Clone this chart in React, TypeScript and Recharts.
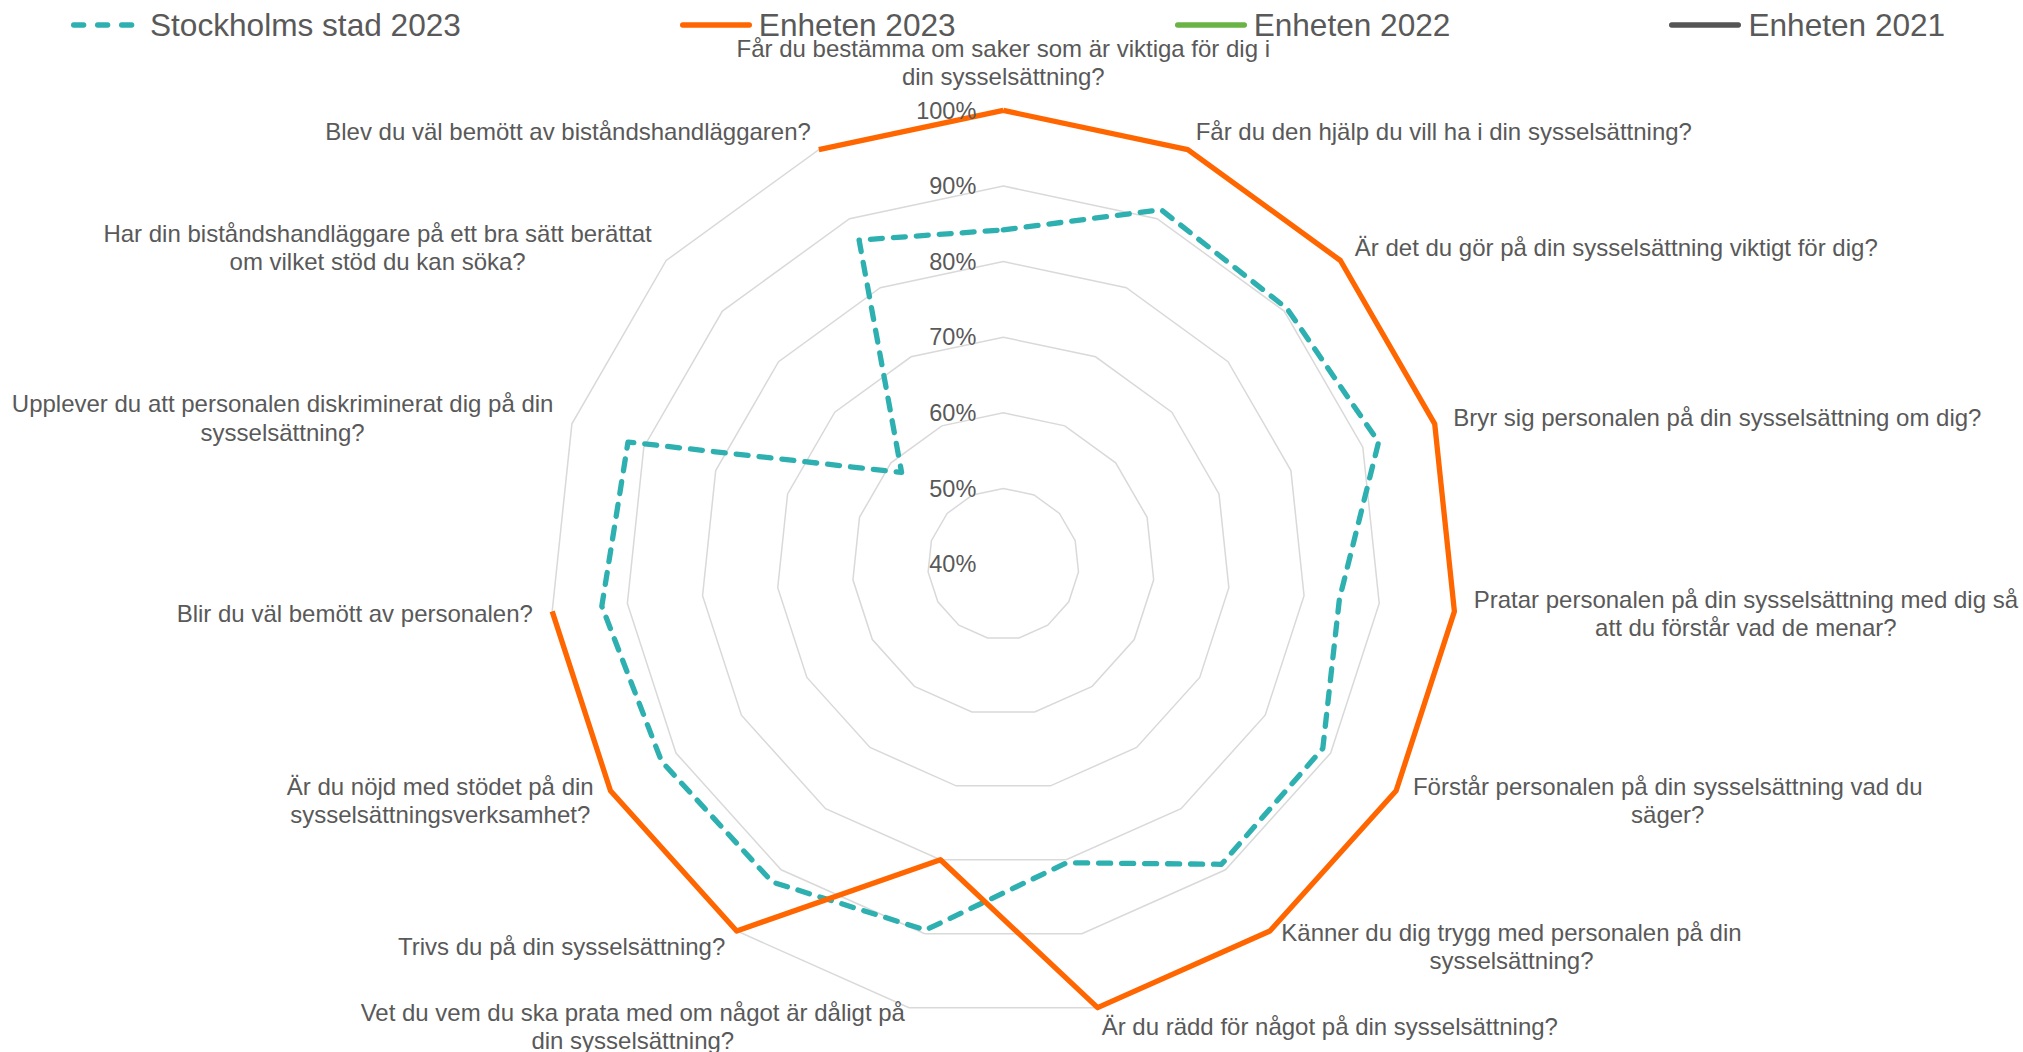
import { RadarChart, Radar, PolarGrid, PolarAngleAxis, PolarRadiusAxis, Legend } from 'recharts';

const QUESTIONS = [
  'Får du bestämma om saker som är viktiga för dig i\ndin sysselsättning?',
  'Får du den hjälp du vill ha i din sysselsättning?',
  'Är det du gör på din sysselsättning viktigt för dig?',
  'Bryr sig personalen på din sysselsättning om dig?',
  'Pratar personalen på din sysselsättning med dig så\natt du förstår vad de menar?',
  'Förstår personalen på din sysselsättning vad du\nsäger?',
  'Känner du dig trygg med personalen på din\nsysselsättning?',
  'Är du rädd för något på din sysselsättning?',
  'Vet du vem du ska prata med om något är dåligt på\ndin sysselsättning?',
  'Trivs du på din sysselsättning?',
  'Är du nöjd med stödet på din\nsysselsättningsverksamhet?',
  'Blir du väl bemött av personalen?',
  'Upplever du att personalen diskriminerat dig på din\nsysselsättning?',
  'Har din biståndshandläggare på ett bra sätt berättat\nom vilket stöd du kan söka?',
  'Blev du väl bemött av biståndshandläggaren?',
];

// percent per question, clockwise from the top
const STOCKHOLM_2023 = [84.2, 91.3, 90.5, 92.2, 84.7, 88.8, 89.1, 80.4, 89.5, 92.0, 92.2, 93.4, 92.2, 58.1, 86.9];
const ENHETEN_2023 = [100, 100, 100, 100, 100, 100, 100, 100, 80, 100, 100, 100, null, null, 100];

const RADIUS_TICKS = [40, 50, 60, 70, 80, 90, 100];

const SERIES = [
  { name: 'Stockholms stad 2023', color: '#2EB0B0', dashed: true },
  { name: 'Enheten 2023', color: '#FF6600', dashed: false },
  { name: 'Enheten 2022', color: '#6AB446', dashed: false },
  { name: 'Enheten 2021', color: '#555555', dashed: false },
];

const FONT = '"Liberation Sans", Arial, sans-serif';
const TEXT = '#595959';
const CX = 1003.3;
const CY = 564;
const R = 453.6;
const LABEL_DIST = 473;
const LABEL_SIZE = 24;
const LINE_H = 28.6;

const rows = QUESTIONS.map((q, i) => ({
  question: q,
  stockholm: STOCKHOLM_2023[i],
  enheten2023: ENHETEN_2023[i],
}));

let ctx: CanvasRenderingContext2D | null = null;
function measure(s: string) {
  if (!ctx) ctx = document.createElement('canvas').getContext('2d');
  if (!ctx) return s.length * LABEL_SIZE * 0.5;
  ctx.font = `${LABEL_SIZE}px ${FONT}`;
  return ctx.measureText(s).width;
}

// outline that leaves a gap where a question has no answer (like Excel does)
function GappedOutline(props: any) {
  const { points, dataKey, stroke, strokeWidth, strokeDasharray, strokeLinecap, strokeLinejoin } = props;
  const hasValue = (p: any) => p && p.payload && p.payload[dataKey] != null;
  const segs: any[][] = [[]];
  points.forEach((p: any) => {
    if (hasValue(p)) segs[segs.length - 1].push(p);
    else if (segs[segs.length - 1].length > 0) segs.push([]);
  });
  const closed = points.every(hasValue);
  if (!closed && hasValue(points[0])) segs[segs.length - 1].push(points[0]);
  const d = segs
    .filter((s) => s.length > 1)
    .map((s) => s.map((p, i) => `${i === 0 ? 'M' : 'L'}${p.x},${p.y}`).join(''))
    .join('') + (closed ? 'Z' : '');
  return (
    <path d={d} fill="none" stroke={stroke} strokeWidth={strokeWidth} strokeDasharray={strokeDasharray}
      strokeLinecap={strokeLinecap} strokeLinejoin={strokeLinejoin} />
  );
}

function QuestionTick(props: any) {
  const { x, y, payload } = props;
  const dx = x - CX;
  const dy = y - CY;
  const len = Math.hypot(dx, dy) || 1;
  const ux = dx / len;
  const uy = dy / len;
  const px = CX + ux * LABEL_DIST;
  const py = CY + uy * LABEL_DIST;
  const lines = String(payload.value).split('\n');
  const w = Math.max(...lines.map(measure));
  const h = lines.length * LINE_H;
  let bx = px;
  let top = py - h / 2;
  if (ux > 0.01) bx = px + w / 2;
  else if (ux < -0.01) bx = px - w / 2;
  else top = uy < 0 ? py - h : py;
  return (
    <g>
      {lines.map((l, i) => (
        <text key={i} x={bx} y={top + LINE_H * (i + 0.5)} dy="0.35em" textAnchor="middle"
          fontSize={LABEL_SIZE} fontFamily={FONT} fill={TEXT}>{l}</text>
      ))}
    </g>
  );
}

function PercentTick(props: any) {
  const { x, y, payload } = props;
  return (
    <text x={x - 27} y={y} dy="0.35em" textAnchor="end" fontSize={23.5} fontFamily={FONT} fill={TEXT}>
      {payload.value}%
    </text>
  );
}

function LegendRow() {
  return (
    <div style={{ display: 'flex', alignItems: 'center', height: 50, paddingLeft: 71, gap: 219, fontFamily: FONT, fontSize: 31.6, color: TEXT }}>
      {SERIES.map((s) => (
        <div key={s.name} style={{ display: 'flex', alignItems: 'center' }}>
          <svg width={72} height={12}>
            {s.dashed ? (
              <line x1={2.65} y1={6} x2={60.65} y2={6} stroke={s.color} strokeWidth={5.3}
                strokeDasharray="10 14" strokeLinecap="round" />
            ) : (
              <line x1={2.65} y1={6} x2={69.35} y2={6} stroke={s.color} strokeWidth={5.3} strokeLinecap="round" />
            )}
          </svg>
          <span style={{ marginLeft: 7, whiteSpace: 'nowrap' }}>{s.name}</span>
        </div>
      ))}
    </div>
  );
}

export default function App() {
  return (
    <div style={{ position: 'absolute', left: 0, top: 0, width: 2023, height: 1052, background: '#fff' }}>
      <RadarChart width={2023} height={1052} data={rows} cx={CX} cy={CY} outerRadius={R}
        startAngle={90} endAngle={-270} margin={{ top: 0, right: 0, bottom: 0, left: 0 }}>
        <PolarGrid gridType="polygon" radialLines={false} stroke="#D9D9D9" strokeWidth={1.5} />
        <PolarAngleAxis dataKey="question" tick={QuestionTick} tickLine={false} axisLine={false} />
        <PolarRadiusAxis angle={90} domain={[40, 100]} ticks={RADIUS_TICKS} tickCount={7}
          axisLine={false} tick={PercentTick} />
        <Radar name="Stockholms stad 2023" dataKey="stockholm" stroke="#2EB0B0" strokeWidth={5.3}
          strokeDasharray="12 11" strokeLinecap="round" strokeLinejoin="round"
          fill="none" fillOpacity={0} dot={false} shape={GappedOutline} isAnimationActive={false} />
        <Radar name="Enheten 2023" dataKey="enheten2023" stroke="#FF6600" strokeWidth={5.3}
          strokeLinejoin="round" fill="none" fillOpacity={0} dot={false} shape={GappedOutline}
          isAnimationActive={false} />
        <Legend verticalAlign="top" align="left" wrapperStyle={{ top: 0, left: 0, width: 2023 }}
          content={() => <LegendRow />} />
      </RadarChart>
    </div>
  );
}
